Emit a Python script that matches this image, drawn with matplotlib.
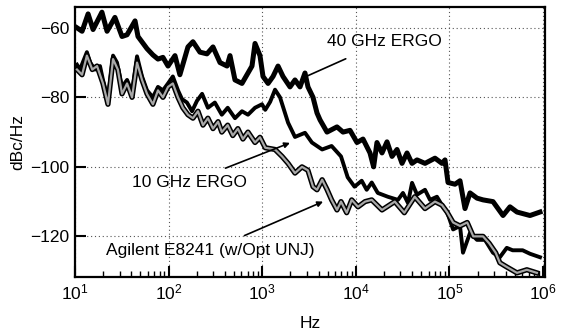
import matplotlib
matplotlib.use("Agg")
import matplotlib.pyplot as plt
from matplotlib.ticker import LogLocator, NullFormatter

plt.rcParams['font.family'] = ['Liberation Sans', 'DejaVu Sans']

# ---- data ----
f40 = [10.5, 11.9, 13.8, 15.6, 19.4, 22, 26.7, 31.8, 36, 43.8, 47.1, 58.8, 68, 77, 87, 98.6,
       117, 132, 161, 182, 216, 257, 298, 354, 421, 453, 512, 608, 705, 778, 838, 947,
       1020, 1155, 1305, 1476, 1668, 1982, 2240, 2535, 2865, 3084, 3490, 3850, 4150, 4925,
       6295, 7300, 8670, 10300, 11940, 14180, 15500, 16830, 19050, 21550, 24380, 27560,
       31180, 35250, 39870, 45100, 54860, 70150, 83330, 89750, 96650, 114800, 129800,
       146800, 166000, 197200, 228600, 292300, 373900, 443900, 527400, 726000, 928600]
v40 = [-60, -61, -56, -60.5, -55.5, -61, -57, -62.5, -62, -58, -62.5, -66, -67.8, -69, -68.5, -71,
       -68, -73.5, -65.5, -64, -67, -67.5, -65.5, -70, -71, -68, -75, -76, -73, -71, -64.5, -68,
       -74, -76, -74, -71, -74, -77, -75, -77, -73, -77, -80, -84.5, -86.5, -90,
       -88.5, -90, -89.5, -93, -92, -96, -100, -93, -96, -92.8, -97, -95,
       -99, -96, -99, -98, -99, -97.5, -99, -98, -104.5, -105, -104,
       -112, -107.5, -109, -109.5, -110, -114, -111.5, -113, -114, -113]

f10 = [10.5, 11.3, 13.4, 14.5, 16.4, 18.5, 19.9, 22.5, 25.5, 28.1, 31.8, 36, 40.7, 46, 52, 58.8,
       68, 77, 87, 98.6, 111, 126, 139, 157, 178, 201, 228, 263, 312, 370, 428, 512, 608, 705,
       838, 995, 1078, 1216, 1371, 1550, 1890, 2240, 2865, 3396, 4370, 5512, 6950, 8190, 9690,
       11560, 13070, 14800, 17170, 21990, 28200, 31900, 36100, 39900, 45100, 54860, 62100,
       73600, 83300, 94400, 109500, 129800, 139700, 166000, 197200, 240000, 292000, 346000,
       410000, 474000, 606000, 726000, 928600]
v10 = [-70.6, -72, -67, -70, -72, -71, -75, -80.5, -68, -70, -77, -75, -78.5, -68.2, -74, -78,
       -80, -77, -78, -76, -74, -78, -80.5, -81.5, -84, -81, -79, -83, -81.5, -85, -83, -86, -84, -85,
       -83, -82, -83.6, -81.3, -77.8, -80, -87.3, -91.4, -90.2, -93, -95, -94, -97, -103, -105.7,
       -104, -106.6, -104.5, -107.5, -108.6, -109.5, -107.5, -110.4, -104.6, -108, -106.6, -109.5,
       -108.6, -111, -113, -118, -117, -124.7, -119, -121, -121, -124.7, -126,
       -123.3, -124, -124, -125, -126]

fag = [10.5, 11.9, 13.4, 15.3, 17.2, 19.9, 22.5, 25.5, 28.7, 31.8, 36, 40.7, 46, 52, 58.8, 68,
       77, 87, 98.6, 111, 126, 142, 161, 182, 206, 233, 263, 298, 338, 370, 428, 485, 550, 622,
       705, 838, 947, 1078, 1371, 1630, 1890, 2240, 2660, 3080, 3490, 3850, 4370, 4925, 5512,
       6295, 6950, 7990, 9040, 10560, 12560, 14800, 19050, 26100, 33000, 42600, 54860, 70150,
       83300, 94400, 109500, 129800, 155000, 180000, 228600, 266000, 312000, 346000, 410000,
       527400, 672000, 860000]
vag = [-72, -73.5, -68, -72, -71, -76, -82, -69, -72, -79, -76, -80, -70, -75, -79, -82,
       -78, -80, -77, -76, -80, -83, -85, -86, -84, -88, -86, -89, -87, -90, -88, -91, -89, -92,
       -90, -93, -91.5, -94.5, -95, -97, -99, -101.8, -100, -101, -105.7, -106.6, -103.7, -106.5, -109.5,
       -112.4, -110, -113.2, -109.5, -111.5, -110, -109.5, -112.4, -110, -113.2, -108.6, -112, -110,
       -111, -113, -116, -117, -116, -120, -120, -122, -124.7, -127.6, -128.8,
       -130.5, -129.6, -130.5]

yticks = [-60, -80, -100, -120]

fig = plt.figure(figsize=(5.69, 3.31), dpi=100)
ax = fig.add_axes([0.1318, 0.163, 0.826, 0.816])

ax.plot(f10, v10, color='black', lw=2.8, zorder=3)
ax.plot(fag, vag, color='black', lw=3.8, zorder=4)
ax.plot(fag, vag, color='#a8a8a8', lw=1.6, zorder=5)
ax.plot(f40, v40, color='black', lw=3.6, zorder=6)

ax.set_xscale('log')
ax.set_xlim(10, 1.05e6)
ax.set_ylim(-131.7, -54)
ax.set_yticks(yticks)
ax.set_yticklabels(['\u2212%d' % abs(t) for t in yticks])
ax.xaxis.set_major_locator(LogLocator(base=10, numticks=10))
ax.xaxis.set_minor_locator(LogLocator(base=10, subs=range(2, 10), numticks=20))
ax.xaxis.set_minor_formatter(NullFormatter())

ax.grid(True, which='major', linestyle=(0, (1, 2.5)), color='#555555', lw=0.8)
ax.tick_params(axis='both', which='major', direction='in', length=8, width=1.5,
               labelsize=12.5, top=False, right=False, pad=4)
ax.tick_params(axis='x', which='minor', direction='in', length=4, width=1.0, top=False)
for s in ax.spines.values():
    s.set_linewidth(1.6)

ax.set_ylabel('dBc/Hz', fontsize=12.5, labelpad=4)
ax.set_xlabel('Hz', fontsize=12.5, labelpad=10)

ax.annotate('40 GHz ERGO', xy=(2730, -74.4), xytext=(2.0e4, -64),
            fontsize=12.5, ha='center', va='center', zorder=10,
            arrowprops=dict(arrowstyle='-', color='black', lw=1.2, shrinkA=12, shrinkB=0))
ax.annotate('10 GHz ERGO', xy=(1980, -93.1), xytext=(165, -104.5),
            fontsize=12.5, ha='center', va='center', zorder=10,
            arrowprops=dict(arrowstyle='-|>', color='black', lw=1.2, mutation_scale=8,
                            shrinkA=8, shrinkB=0))
ax.annotate('Agilent E8241 (w/Opt UNJ)', xy=(4470, -110), xytext=(280, -124),
            fontsize=12.5, ha='center', va='center', zorder=10,
            arrowprops=dict(arrowstyle='-|>', color='black', lw=1.2, mutation_scale=8,
                            shrinkA=8, shrinkB=0))

fig.savefig('out.png', dpi=100)
